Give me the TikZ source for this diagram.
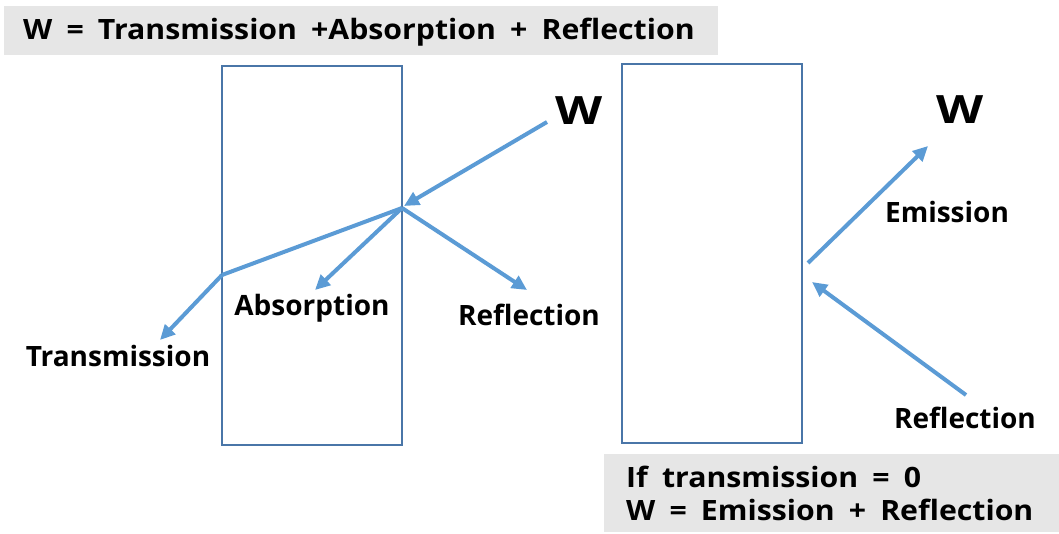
\documentclass[tikz,border=0pt]{standalone}
\usepackage{fontspec}
\usetikzlibrary{arrows.meta}
\setmainfont{Open Sans}
\newfontfamily\eqfont{Open Sans}[FakeStretch=1.08, WordSpace=1.8]
\newfontfamily\wfont{Open Sans}[FakeStretch=1.25]
\definecolor{rayblue}{HTML}{5B9BD5}
\definecolor{slabblue}{HTML}{4A76A8}
\definecolor{notegray}{HTML}{E6E6E6}
\tikzset{
  ray/.style={-{Triangle[length=15pt,width=14pt]}, rayblue, line width=4pt},
  slab/.style={draw=slabblue, line width=2.2pt},
  lbl/.style={font=\fontsize{28}{32}\selectfont\bfseries, inner sep=0pt},
  eqn/.style={font=\eqfont\fontsize{28}{32}\selectfont\bfseries, inner sep=0pt},
  bigw/.style={font=\wfont\fontsize{39}{44}\selectfont\bfseries, inner sep=0pt}
}
\begin{document}
\begin{tikzpicture}[x=1pt,y=-1pt]
\useasboundingbox (0,0) rectangle (1059,534);
% notes
\fill[notegray] (4,6) rectangle (718,55);
\node[eqn, anchor=base west] (eqtop) at (23,40) {W = Transmission +Absorption + Reflection};
\fill[notegray] (604,454) rectangle (1059,532);
\node[eqn, anchor=base west] (cond) at (626,487) {If transmission = 0};
\node[eqn, anchor=base west] (eqbot) at (626,520) {W = Emission + Reflection};
% slabs
\draw[slab] (222,66) rectangle (402,445);
\draw[slab] (622,64) rectangle (802,443);
% left slab rays
\node[bigw] (win) at (579,111) {W};
\coordinate (src) at (547,122);
\coordinate (hit) at (402,208);
\coordinate (hitin) at (404,206);
\coordinate (exit) at (222,275);
\coordinate (trans) at (160,340);
\coordinate (absb) at (315,290);
\coordinate (refl) at (527,290);
\draw[ray] (src) -- (hitin);
\draw[rayblue, line width=4pt, line join=round] (hit) -- (exit);
\draw[ray] (exit) -- (trans);
\draw[ray] (hit) -- (absb);
\draw[ray] (hit) -- (refl);
\node[lbl, anchor=base] (ltrans) at (118,366) {Transmission};
\node[lbl, anchor=base] (labs) at (312,316) {Absorption};
\node[lbl, anchor=base] (lrefl) at (529,325) {Reflection};
% right slab rays
\node[bigw] (wout) at (960,110) {W};
\coordinate (emit) at (808,263);
\coordinate (emitend) at (928,146);
\coordinate (rsrc) at (966,395);
\coordinate (rend) at (812,282);
\draw[ray] (emit) -- (emitend);
\draw[ray] (rsrc) -- (rend);
\node[lbl, anchor=base] (lemit) at (947,223) {Emission};
\node[lbl, anchor=base] (rrefl) at (965,428) {Reflection};
\end{tikzpicture}
\end{document}
